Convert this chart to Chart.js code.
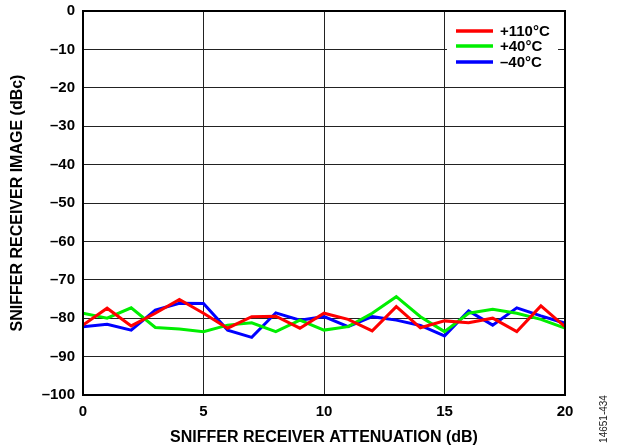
<!DOCTYPE html>
<html>
<head>
<meta charset="utf-8">
<script src="https://cdn.jsdelivr.net/npm/chart.js@4.4.0/dist/chart.umd.min.js"></script>
<style>
  html, body { margin: 0; padding: 0; background: #fff; }
</style>
</head>
<body>
<canvas id="chart" width="623" height="448"></canvas>
<script>
const attenuation = [0, 1, 2, 3, 4, 5, 6, 7, 8, 9, 10, 11, 12, 13, 14, 15, 16, 17, 18, 19, 20];
const image110 = [-81.8, -77.4, -82.0, -78.7, -75.1, -78.7, -82.6, -79.6, -79.5, -82.6, -78.7, -80.3, -83.3, -77.0, -82.5, -80.7, -81.2, -80.0, -83.5, -76.8, -82.2];
const image40 = [-78.7, -80.0, -77.3, -82.4, -82.8, -83.5, -81.8, -81.2, -83.5, -80.5, -83.1, -82.2, -78.7, -74.4, -79.6, -83.5, -78.7, -77.7, -78.7, -80.3, -82.6];
const imageMinus40 = [-82.2, -81.6, -83.1, -77.9, -76.1, -76.2, -83.1, -85.0, -78.6, -80.5, -79.6, -82.2, -79.6, -80.5, -81.9, -84.6, -78.1, -81.8, -77.3, -79.4, -81.3];
const seriesLabels = ['+110°C', '+40°C', '\u201340°C'];
const seriesColors = ['#ff0000', '#00ee00', '#0000ff'];
const xTitle = 'SNIFFER RECEIVER ATTENUATION (dB)';
const yTitle = 'SNIFFER RECEIVER IMAGE (dBc)';
const figureId = '14651-434';

const FONT = "'Liberation Sans', Arial, sans-serif";

function pts(vals) {
    return attenuation.map((x, i) => ({ x: x, y: vals[i] }));
}

const datasets = [image110, image40, imageMinus40].map((vals, i) => ({
    label: seriesLabels[i],
    data: pts(vals),
    borderColor: seriesColors[i],
    backgroundColor: seriesColors[i],
    borderWidth: 3,
    pointRadius: 0,
    tension: 0,
    fill: false
}));

// box round plot + legend inside + figure number
const extras = {
    id: 'extras',
    afterDatasetsDraw(chart) {
        const ctx = chart.ctx;
        const a = chart.chartArea;
        ctx.save();
        // legend box
        ctx.fillStyle = '#fff';
        ctx.fillRect(447, 20, 111, 52);
        ctx.font = 'bold 15px ' + FONT;
        ctx.textBaseline = 'middle';
        ctx.textAlign = 'left';
        const rows = [31, 46, 62];
        chart.data.datasets.forEach((ds, i) => {
            ctx.strokeStyle = ds.borderColor;
            ctx.lineWidth = 3.5;
            ctx.beginPath();
            ctx.moveTo(456, rows[i]);
            ctx.lineTo(493, rows[i]);
            ctx.stroke();
            ctx.fillStyle = '#000';
            ctx.fillText(ds.label, 500, rows[i] + 1);
        });
        // frame
        ctx.strokeStyle = '#000';
        ctx.lineWidth = 2;
        ctx.strokeRect(a.left, a.top, a.right - a.left, a.bottom - a.top);
        // figure number
        ctx.translate(604, 419);
        ctx.rotate(-Math.PI / 2);
        ctx.font = '10px ' + FONT;
        ctx.fillStyle = '#222';
        ctx.textAlign = 'center';
        ctx.textBaseline = 'middle';
        ctx.fillText(figureId, 0, 0);
        ctx.restore();
    }
};

const config = {
    type: 'line',
    data: { datasets: datasets },
    options: {
        responsive: false,
        devicePixelRatio: 1,
        animation: false,
        layout: { padding: { left: 0, right: 58, top: 11, bottom: 0 } },
        plugins: {
            legend: { display: false },
            tooltip: { enabled: false }
        },
        scales: {
            x: {
                type: 'linear',
                min: 0,
                max: 20,
                afterFit: (s) => { s.height = 53; s.paddingLeft = 0; s.paddingRight = 0; },
                ticks: {
                    stepSize: 5,
                    color: '#000',
                    padding: 8,
                    maxRotation: 0,
                    font: { family: FONT, size: 15, weight: 'bold' }
                },
                grid: { color: '#222', lineWidth: 1, drawTicks: false },
                border: { color: '#000', width: 2 },
                title: {
                    display: true,
                    text: xTitle,
                    color: '#000',
                    padding: { top: 0, bottom: 1 },
                    font: { family: FONT, size: 16, weight: 'bold' }
                }
            },
            y: {
                min: -100,
                max: 0,
                afterFit: (s) => { s.width = 83; s.paddingTop = 0; s.paddingBottom = 0; },
                ticks: {
                    stepSize: 10,
                    color: '#000',
                    padding: 8,
                    font: { family: FONT, size: 15, weight: 'bold' },
                    callback: (v) => v < 0 ? '\u2013' + Math.abs(v) : String(v)
                },
                grid: { color: '#222', lineWidth: 1, drawTicks: false },
                border: { color: '#000', width: 2 },
                title: {
                    display: true,
                    text: yTitle,
                    color: '#000',
                    padding: { top: 8, bottom: 0 },
                    font: { family: FONT, size: 16, weight: 'bold' }
                }
            }
        }
    },
    plugins: [extras]
};

const snifferChart = new Chart(document.getElementById('chart'), config);
</script>
</body>
</html>
